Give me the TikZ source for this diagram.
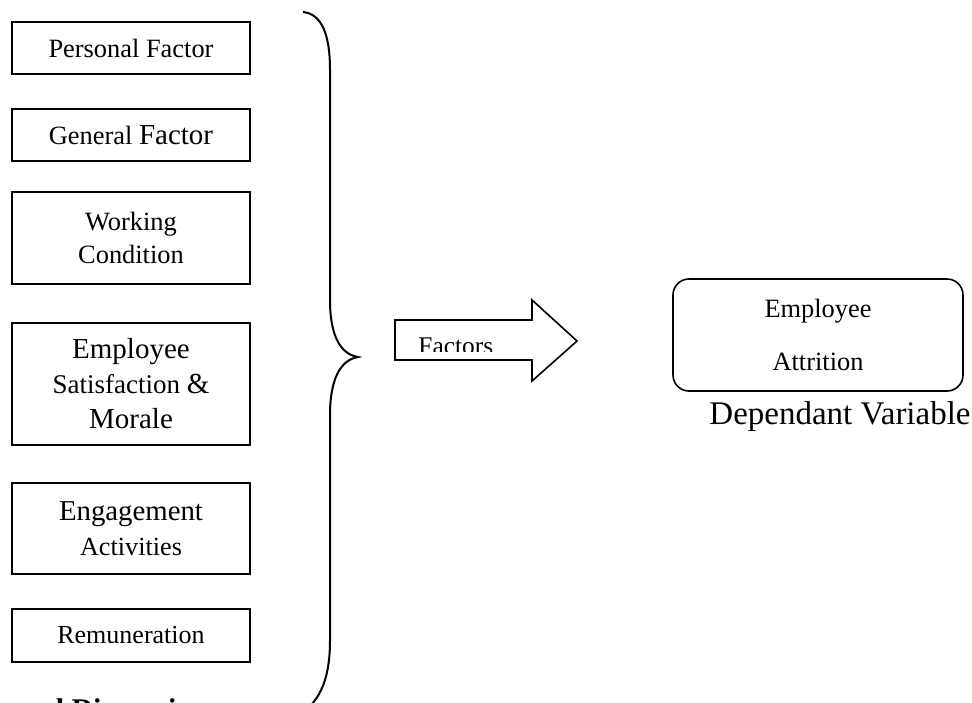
\documentclass[tikz,border=0pt]{standalone}
\usepackage{fontspec}
\setmainfont{Liberation Serif}
\usetikzlibrary{positioning}

\begin{document}
\begin{tikzpicture}[
x=0.5pt,y=-0.5pt,
factorbox/.style={draw,line width=0.8pt,align=center,minimum width=119pt,inner sep=0pt,
  font=\fontsize{13.2}{16.5}\selectfont},
resultbox/.style={draw,line width=0.8pt,rounded corners=8pt,align=center,minimum width=145pt,
  minimum height=56pt,inner sep=0pt,font=\fontsize{13.2}{26.5}\selectfont},
bracepath/.style={line width=1pt},
shaftpath/.style={line width=0.8pt}]
\useasboundingbox (0,0) rectangle (972,702);
\clip (0,0) rectangle (972,702);
% independent factors
\node[factorbox,minimum height=26pt] (personal) at (131,48) {Personal Factor};
\node[factorbox,minimum height=26pt] (general) at (131,135) {General {\fontsize{14.5}{16.5}\selectfont Factor}};
\node[factorbox,minimum height=46pt] (working) at (131,238) {Working\\Condition};
\node[factorbox,minimum height=61pt,font=\fontsize{13.5}{17.5}\selectfont] (morale) at (131,384)
  {{\fontsize{14.5}{17.5}\selectfont Employee}\\Satisfaction {\fontsize{14.5}{17.5}\selectfont\&}\\{\fontsize{14.5}{17.5}\selectfont Morale}};
\node[factorbox,minimum height=45.5pt,font=\fontsize{13.1}{17.5}\selectfont] (engage) at (131,528.5)
  {{\fontsize{14.4}{17.5}\selectfont Engagement}\\Activities};
\node[factorbox,minimum height=26.5pt,font=\fontsize{13}{16.5}\selectfont] (remun) at (131,635.5) {Remuneration};
\node[anchor=base west,inner sep=0pt,font=\bfseries\fontsize{15}{18}\selectfont] (dimlabel) at (47,719) {d Dimensions};
% brace
\draw[bracepath] (303,12) .. controls (322,14) and (330,35) .. (330,70) -- (330,300)
  .. controls (330,335) and (340,354) .. (358,357)
  .. controls (340,360) and (330,380) .. (330,415) -- (330,640)
  .. controls (330,675) and (322,695) .. (308,708);
% block arrow
\draw[shaftpath,line join=miter] (395,320) -- (532,320) -- (532,300) -- (577,341) -- (532,381)
  -- (532,360) -- (395,360) -- cycle;
\begin{scope}
\clip (400,325) rectangle (520,351);
\node[anchor=base west,inner sep=0pt,font=\fontsize{12.7}{15}\selectfont] (factlabel) at (418,354) {Factors};
\end{scope}
% dependent variable
\node[resultbox] (attrition) at (818,335) {Employee\\Attrition};
\node[font=\fontsize{16.5}{20}\selectfont,inner sep=0pt] (deplabel) at (840,417) {Dependant Variable};
\end{tikzpicture}
\end{document}
